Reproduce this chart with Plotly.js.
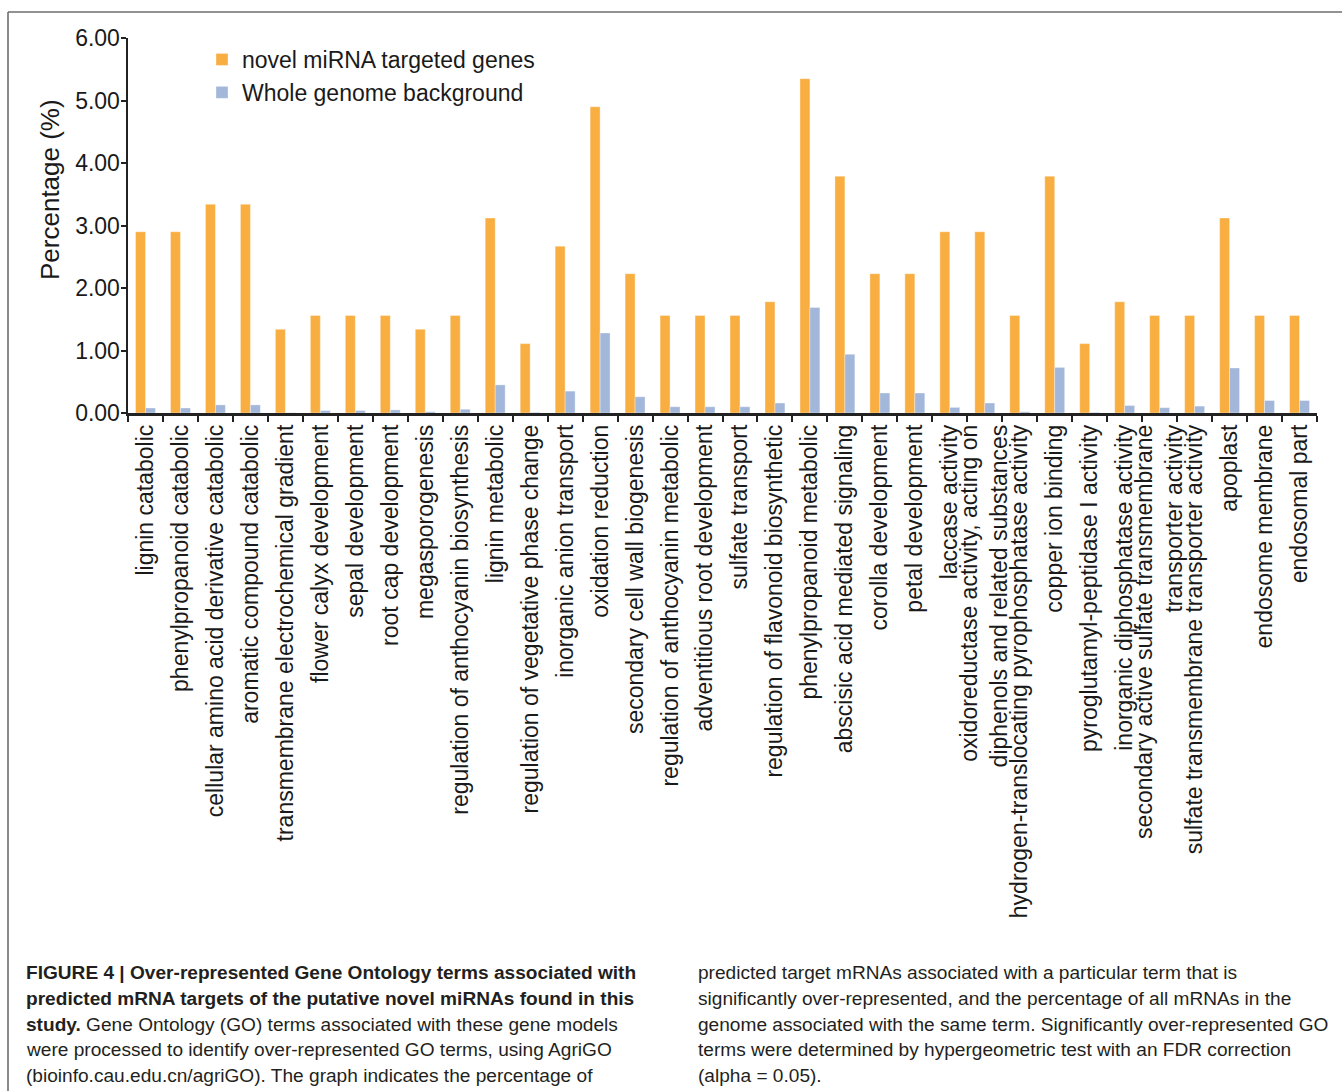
<!DOCTYPE html>
<html>
<head>
<meta charset="utf-8">
<script src="https://cdn.plot.ly/plotly-3.0.1.min.js"></script>
<style>
  html, body { margin: 0; padding: 0; background: #ffffff; }
  #chart { width: 1342px; height: 1091px; }
</style>
</head>
<body>
<div id="chart"></div>
<script>
// GO terms over-represented among predicted targets of the novel miRNAs
const goTerms = [
  "lignin catabolic",
  "phenylpropanoid catabolic",
  "cellular amino acid derivative catabolic",
  "aromatic compound catabolic",
  "transmembrane electrochemical gradient",
  "flower calyx development",
  "sepal development",
  "root cap development",
  "megasporogenesis",
  "regulation of anthocyanin biosynthesis",
  "lignin metabolic",
  "regulation of vegetative phase change",
  "inorganic anion transport",
  "oxidation reduction",
  "secondary cell wall biogenesis",
  "regulation of anthocyanin metabolic",
  "adventitious root development",
  "sulfate transport",
  "regulation of flavonoid biosynthetic",
  "phenylpropanoid metabolic",
  "abscisic acid mediated signaling",
  "corolla development",
  "petal development",
  "laccase activity",
  "oxidoreductase activity, acting on<br>diphenols and related substances",
  "hydrogen-translocating pyrophosphatase activity",
  "copper ion binding",
  "pyroglutamyl-peptidase I activity",
  "inorganic diphosphatase activity",
  "secondary active sulfate transmembrane<br>transporter activity",
  "sulfate transmembrane transporter activity",
  "apoplast",
  "endosome membrane",
  "endosomal part"
];

// Percentage of novel-miRNA target genes annotated with each term
const novelTargetPct = [
  2.90, 2.90, 3.34, 3.34, 1.34, 1.56, 1.56, 1.56, 1.34, 1.56,
  3.12, 1.11, 2.67, 4.90, 2.23, 1.56, 1.56, 1.56, 1.78, 5.35,
  3.79, 2.23, 2.23, 2.90, 2.90, 1.56, 3.79, 1.11, 1.78, 1.56,
  1.56, 3.12, 1.56, 1.56
];

// Percentage of all genome mRNAs annotated with each term
const genomeBackgroundPct = [
  0.08, 0.08, 0.13, 0.13, 0.005, 0.04, 0.04, 0.05, 0.02, 0.06,
  0.45, 0.01, 0.35, 1.28, 0.26, 0.10, 0.10, 0.10, 0.16, 1.69,
  0.94, 0.32, 0.32, 0.09, 0.16, 0.02, 0.73, 0.01, 0.12, 0.085,
  0.11, 0.72, 0.20, 0.20
];

const seriesNames = ["novel miRNA targeted genes", "Whole genome background"];
const yTicks = [0, 1, 2, 3, 4, 5, 6];

// Figure caption, one entry per printed line
const captionLeft = [
  "<b>FIGURE 4 | Over-represented Gene Ontology terms associated with</b>",
  "<b>predicted mRNA targets of the putative novel miRNAs found in this</b>",
  "<b>study.</b> Gene Ontology (GO) terms associated with these gene models",
  "were processed to identify over-represented GO terms, using AgriGO",
  "(bioinfo.cau.edu.cn/agriGO). The graph indicates the percentage of"
];
const captionRight = [
  "predicted target mRNAs associated with a particular term that is",
  "significantly over-represented, and the percentage of all mRNAs in the",
  "genome associated with the same term. Significantly over-represented GO",
  "terms were determined by hypergeometric test with an FDR correction",
  "(alpha = 0.05)."
];

// ---- layout geometry (pixels) ----
const W = 1342, H = 1091;
const M = { l: 128, r: 25, t: 38, b: 678 };
const plotW = W - M.l - M.r, plotH = H - M.t - M.b;
const px = X => (X - M.l) / plotW;        // pixel x -> paper x
const py = Y => (H - M.b - Y) / plotH;    // pixel y -> paper y

const FONT = "Liberation Sans, Arial, Helvetica, sans-serif";
const INK = "#1a1a1a";

const traces = [
  {
    type: "bar",
    name: seriesNames[0],
    x: goTerms,
    y: novelTargetPct,
    marker: { color: "#F9AE42", line: { color: "rgba(255,255,255,0.35)", width: 1 } },
    hovertemplate: "%{x}<br>%{y:.2f}%<extra></extra>"
  },
  {
    type: "bar",
    name: seriesNames[1],
    x: goTerms,
    y: genomeBackgroundPct,
    marker: { color: "#A3B7DA", line: { color: "rgba(255,255,255,0.35)", width: 1 } },
    hovertemplate: "%{x}<br>%{y:.2f}%<extra></extra>"
  }
];

const annotations = [];
// y-axis title
annotations.push({
  xref: "paper", yref: "paper",
  x: px(50), y: py(190),
  xanchor: "center", yanchor: "middle",
  text: "Percentage (%)", textangle: -90, showarrow: false,
  font: { family: FONT, size: 26, color: INK }
});
// caption lines
const capY = [973, 998, 1024, 1049, 1075];
const capFont = { family: FONT, size: 19.1, color: "#231f20" };
captionLeft.forEach((t, i) => annotations.push({
  xref: "paper", yref: "paper", x: px(24), y: py(capY[i]),
  xanchor: "left", yanchor: "middle", showarrow: false, text: t, font: capFont
}));
captionRight.forEach((t, i) => annotations.push({
  xref: "paper", yref: "paper", x: px(696), y: py(capY[i]),
  xanchor: "left", yanchor: "middle", showarrow: false, text: t, font: capFont
}));

// thin grey frame along the top and left of the figure panel
const frameLine = { color: "#6e6e6e", width: 1.6 };
const shapes = [
  { type: "line", xref: "paper", yref: "paper", x0: px(8), x1: px(W + 2), y0: py(12), y1: py(12), line: frameLine },
  { type: "line", xref: "paper", yref: "paper", x0: px(8), x1: px(8), y0: py(12), y1: py(H + 2), line: frameLine }
];

const layout = {
  width: W, height: H,
  margin: M,
  paper_bgcolor: "#ffffff",
  plot_bgcolor: "#ffffff",
  barmode: "group",
  bargap: 0.43,
  bargroupgap: 0,
  showlegend: true,
  legend: {
    x: px(202), y: py(38), xanchor: "left", yanchor: "top",
    bgcolor: "rgba(0,0,0,0)",
    font: { family: FONT, size: 23, color: INK },
    tracegroupgap: 0
  },
  xaxis: {
    type: "category",
    showline: true, linecolor: "#222", linewidth: 2.5,
    ticks: "outside", tickson: "boundaries", ticklen: 6, tickwidth: 2, tickcolor: "#222",
    tickangle: -90,
    tickfont: { family: FONT, size: 23, color: INK },
    showgrid: false, zeroline: false,
    automargin: false
  },
  yaxis: {
    range: [0, 6],
    tickvals: yTicks,
    tickformat: ".2f",
    showline: true, linecolor: "#222", linewidth: 2.5,
    ticks: "outside", ticklen: 5, tickwidth: 2, tickcolor: "#222",
    ticklabelstandoff: -4,
    tickfont: { family: FONT, size: 23, color: INK },
    showgrid: false, zeroline: false,
    automargin: false
  },
  annotations: annotations,
  shapes: shapes
};

Plotly.newPlot("chart", traces, layout, { displayModeBar: false, staticPlot: true });
</script>
</body>
</html>
